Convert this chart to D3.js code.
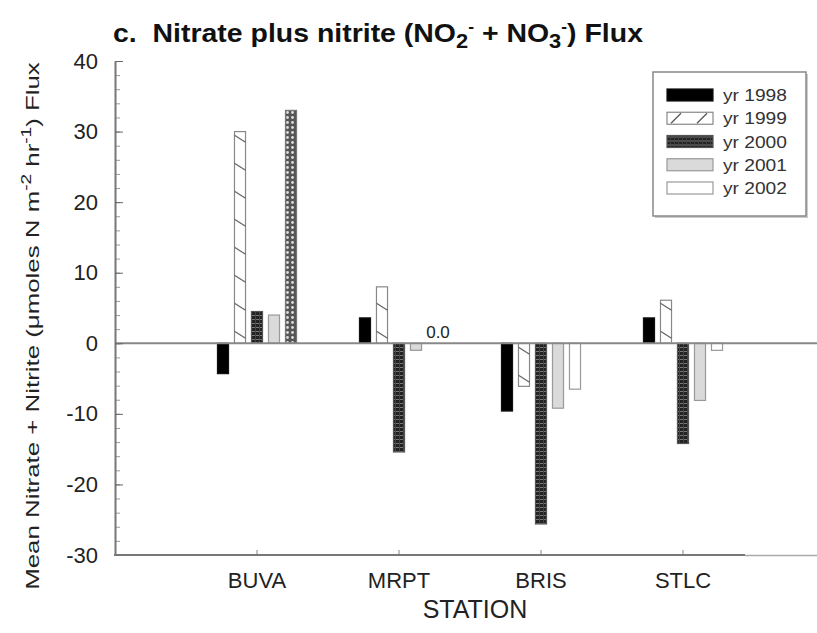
<!DOCTYPE html>
<html>
<head>
<meta charset="utf-8">
<script src="https://cdn.jsdelivr.net/npm/d3@7/dist/d3.min.js"></script>
<style>
  html, body { margin: 0; padding: 0; background: #fff; }
  svg { display: block; font-family: "Liberation Sans", Arial, sans-serif; }
</style>
</head>
<body>
<svg id="chart" width="817" height="633"></svg>
<script>
// Stations along the x axis
const stations = ["BUVA", "MRPT", "BRIS", "STLC"];
// Sampling years (one bar per year in each station group)
const years = ["yr 1998", "yr 1999", "yr 2000", "yr 2001", "yr 2002"];
// Mean nitrate + nitrite flux per year, in station order
const flux1998 = [-4.3, 3.6, -9.6, 3.6];
const flux1999 = [30.0, 8.0, -6.1, 6.1];
const flux2000 = [4.5, -15.4, -25.6, -14.2];
const flux2001 = [4.0, -1.0, -9.2, -8.1];
const flux2002 = [33.0, 0.0, -6.5, -1.0];
// Y tick labels
const yTicks = [-30, -20, -10, 0, 10, 20, 30, 40];
// Bars that carry a printed value label
const labelled = [{ station: "MRPT", year: "yr 2002", value: flux2002[1] }];

const seriesValues = [flux1998, flux1999, flux2000, flux2001, flux2002];

const svg = d3.select("#chart");
const defs = svg.append("defs");

// Stretch a text element horizontally to a given width around its anchor x
function fitWidth(sel, width, anchorX) {
  const node = sel.node();
  const w = node.getComputedTextLength();
  const s = width / w;
  sel.attr("transform", `translate(${anchorX},0) scale(${s},1) translate(${-anchorX},0)`);
}

// Fill patterns
const check = defs.append("pattern").attr("id", "check")
  .attr("patternUnits", "userSpaceOnUse").attr("width", 4).attr("height", 4);
check.append("rect").attr("width", 4).attr("height", 4).attr("fill", "#222");
check.append("rect").attr("y", 3).attr("width", 4).attr("height", 1).attr("fill", "#777");
check.append("rect").attr("x", 3).attr("width", 1).attr("height", 4).attr("fill", "#444");

const dots = defs.append("pattern").attr("id", "dots")
  .attr("patternUnits", "userSpaceOnUse").attr("width", 5).attr("height", 5);
dots.append("rect").attr("width", 5).attr("height", 5).attr("fill", "#555");
dots.append("circle").attr("cx", 2.5).attr("cy", 2.5).attr("r", 1.4).attr("fill", "#ddd");

const yearStyle = {
  "yr 1998": { fill: "#000", stroke: "#111" },
  "yr 1999": { fill: "#fff", stroke: "#888" },
  "yr 2000": { fill: "url(#check)", stroke: "#555" },
  "yr 2001": { fill: "#dadada", stroke: "#999" },
  "yr 2002": { fill: "#fff", stroke: "#999" }
};
// One bar is printed with a dotted fill
const styleOverride = { "BUVA|yr 2002": { fill: "url(#dots)", stroke: "#777" } };
const styleOf = d => styleOverride[d.station + "|" + d.year] || yearStyle[d.year];

// Scales
const x = d3.scaleBand().domain(stations).range([186, 754]).paddingInner(0).paddingOuter(0);
const xi = d3.scaleBand().domain(years).range([-42.5, 42.5]).paddingInner(0.35).paddingOuter(0.175);
const y = d3.scaleLinear().domain([-30, 40]).range([555, 61]);
const barX = d => x(d.station) + x.bandwidth() / 2 + xi(d.year);

const axisColor = "#777";
const plotLeft = 115;

// Bars
const barData = [];
stations.forEach((s, si) => {
  years.forEach((yr, yi) => {
    barData.push({ station: s, year: yr, value: seriesValues[yi][si] });
  });
});

svg.append("g").selectAll("rect").data(barData).join("rect")
  .attr("x", barX)
  .attr("width", xi.bandwidth())
  .attr("y", d => y(Math.max(0, d.value)))
  .attr("height", d => Math.abs(y(d.value) - y(0)))
  .attr("fill", d => styleOf(d).fill)
  .attr("stroke", d => styleOf(d).stroke)
  .attr("stroke-width", 1.2);

// Diagonal hatch strokes inside the 1999 bars, spaced every 28 px from the baseline
const hatchSegs = [];
barData.filter(d => d.year === "yr 1999").forEach(d => {
  const top = y(Math.max(0, d.value)), bot = y(Math.min(0, d.value));
  const x0 = barX(d), w = xi.bandwidth();
  if (d.value >= 0) {
    for (let yy = bot - 5; yy - 7 >= top; yy -= 28) hatchSegs.push({ x0, x1: x0 + w, y0: yy - 7, y1: yy });
  } else {
    for (let yy = top + 4; yy + 7 <= bot; yy += 28) hatchSegs.push({ x0, x1: x0 + w, y0: yy, y1: yy + 7 });
  }
});
svg.append("g").selectAll("line").data(hatchSegs).join("line")
  .attr("x1", d => d.x0).attr("y1", d => d.y0)
  .attr("x2", d => d.x1).attr("y2", d => d.y1)
  .attr("stroke", "#666").attr("stroke-width", 1.3);

// Zero reference line
svg.append("line")
  .attr("x1", plotLeft).attr("x2", 817)
  .attr("y1", y(0)).attr("y2", y(0))
  .attr("stroke", "#888").attr("stroke-width", 2);

// Value labels
svg.append("g").selectAll("text").data(labelled).join("text")
  .attr("x", d => barX(d) + xi.bandwidth() / 2 + 5)
  .attr("y", d => y(d.value) - 5)
  .attr("text-anchor", "middle")
  .attr("font-size", 17).attr("fill", "#222")
  .text(d => d3.format(".1f")(d.value));

// Y axis: minor ticks every 2, major ticks every 10
const yMinor = svg.append("g").attr("transform", `translate(${plotLeft},0)`)
  .call(d3.axisLeft(y).tickValues(d3.range(-30, 41, 2)).tickSizeInner(-5).tickSizeOuter(0).tickFormat(""));
yMinor.select(".domain").remove();
yMinor.selectAll("line").attr("stroke", "#999");

const yAxis = svg.append("g").attr("transform", `translate(${plotLeft},0)`)
  .call(d3.axisLeft(y).tickValues(yTicks).tickSizeInner(-8).tickSizeOuter(0).tickPadding(17)
    .tickFormat(d => String(d)));
yAxis.select(".domain").attr("stroke", axisColor).attr("stroke-width", 2);
yAxis.selectAll(".tick line").attr("stroke", "#666");
yAxis.selectAll(".tick text").attr("font-size", 22).attr("fill", "#222")
  .attr("font-family", "Liberation Sans, Arial, sans-serif");

// X axis
const xAxis = svg.append("g").attr("transform", `translate(0,${y(-30)})`)
  .call(d3.axisBottom(x).tickSizeInner(-5).tickSizeOuter(0).tickPadding(17));
xAxis.select(".domain").remove();
xAxis.selectAll(".tick line").attr("stroke", "#888");
xAxis.selectAll(".tick text").attr("font-size", 22).attr("fill", "#222")
  .attr("font-family", "Liberation Sans, Arial, sans-serif");
svg.append("line").attr("x1", plotLeft - 1).attr("x2", 745)
  .attr("y1", y(-30)).attr("y2", y(-30)).attr("stroke", axisColor).attr("stroke-width", 2);
svg.append("line").attr("x1", 745).attr("x2", 817)
  .attr("y1", y(-30) + 0.5).attr("y2", y(-30) + 0.5).attr("stroke", "#aaa").attr("stroke-width", 1.5);

// Axis titles
svg.append("text").attr("x", 475).attr("y", 618).attr("text-anchor", "middle")
  .attr("font-size", 25).attr("fill", "#222").text("STATION");

const yTitleG = svg.append("g").attr("transform", "translate(39,326) rotate(-90)");
const yTitle = yTitleG.append("text")
  .attr("x", 0).attr("y", 0)
  .attr("text-anchor", "middle").attr("font-size", 19).attr("fill", "#222");
yTitle.append("tspan").text("Mean Nitrate + Nitrite (\u03BCmoles N m");
yTitle.append("tspan").attr("dy", -8).attr("font-size", 14).text("-2");
yTitle.append("tspan").attr("dy", 8).text(" hr");
yTitle.append("tspan").attr("dy", -8).attr("font-size", 14).text("-1");
yTitle.append("tspan").attr("dy", 8).text(") Flux");
fitWidth(yTitle, 528, 0);

// Chart title
const title = svg.append("text").attr("x", 113).attr("y", 42)
  .attr("font-size", 26).attr("font-weight", "bold").attr("fill", "#111");
title.append("tspan").text("c.\u00A0 Nitrate plus nitrite (NO");
title.append("tspan").attr("dy", 6).attr("font-size", 20).text("2");
title.append("tspan").attr("dy", -16).attr("font-size", 16).text("-");
title.append("tspan").attr("dy", 10).text(" + NO");
title.append("tspan").attr("dy", 6).attr("font-size", 20).text("3");
title.append("tspan").attr("dy", -16).attr("font-size", 16).text("-");
title.append("tspan").attr("dy", 10).text(") Flux");
fitWidth(title, 530, 113);

// Legend
const legend = svg.append("g");
legend.append("rect").attr("x", 655).attr("y", 74).attr("width", 153).attr("height", 144)
  .attr("fill", "#ccc");
legend.append("rect").attr("x", 653).attr("y", 72).attr("width", 153).attr("height", 144)
  .attr("fill", "#fff").attr("stroke", "#888").attr("stroke-width", 1.5);
const ly = d3.scalePoint().domain(years).range([95, 188]);
const item = legend.selectAll("g.item").data(years).join("g").attr("class", "item")
  .attr("transform", d => `translate(667,${ly(d)})`);
item.append("rect").attr("x", 0).attr("y", -6).attr("width", 46).attr("height", 12)
  .attr("fill", d => yearStyle[d].fill)
  .attr("stroke", d => yearStyle[d].stroke).attr("stroke-width", 1.2);
item.filter(d => d === "yr 1999").selectAll("line.h").data([4, 30]).join("line")
  .attr("x1", dx => dx).attr("y1", 5).attr("x2", dx => dx + 10).attr("y2", -5)
  .attr("stroke", "#555").attr("stroke-width", 1.3);
item.append("text").attr("x", 56).attr("y", 6).attr("font-size", 17).attr("fill", "#333")
  .text(d => d)
  .each(function () { fitWidth(d3.select(this), 64, 56); });
</script>
</body>
</html>
